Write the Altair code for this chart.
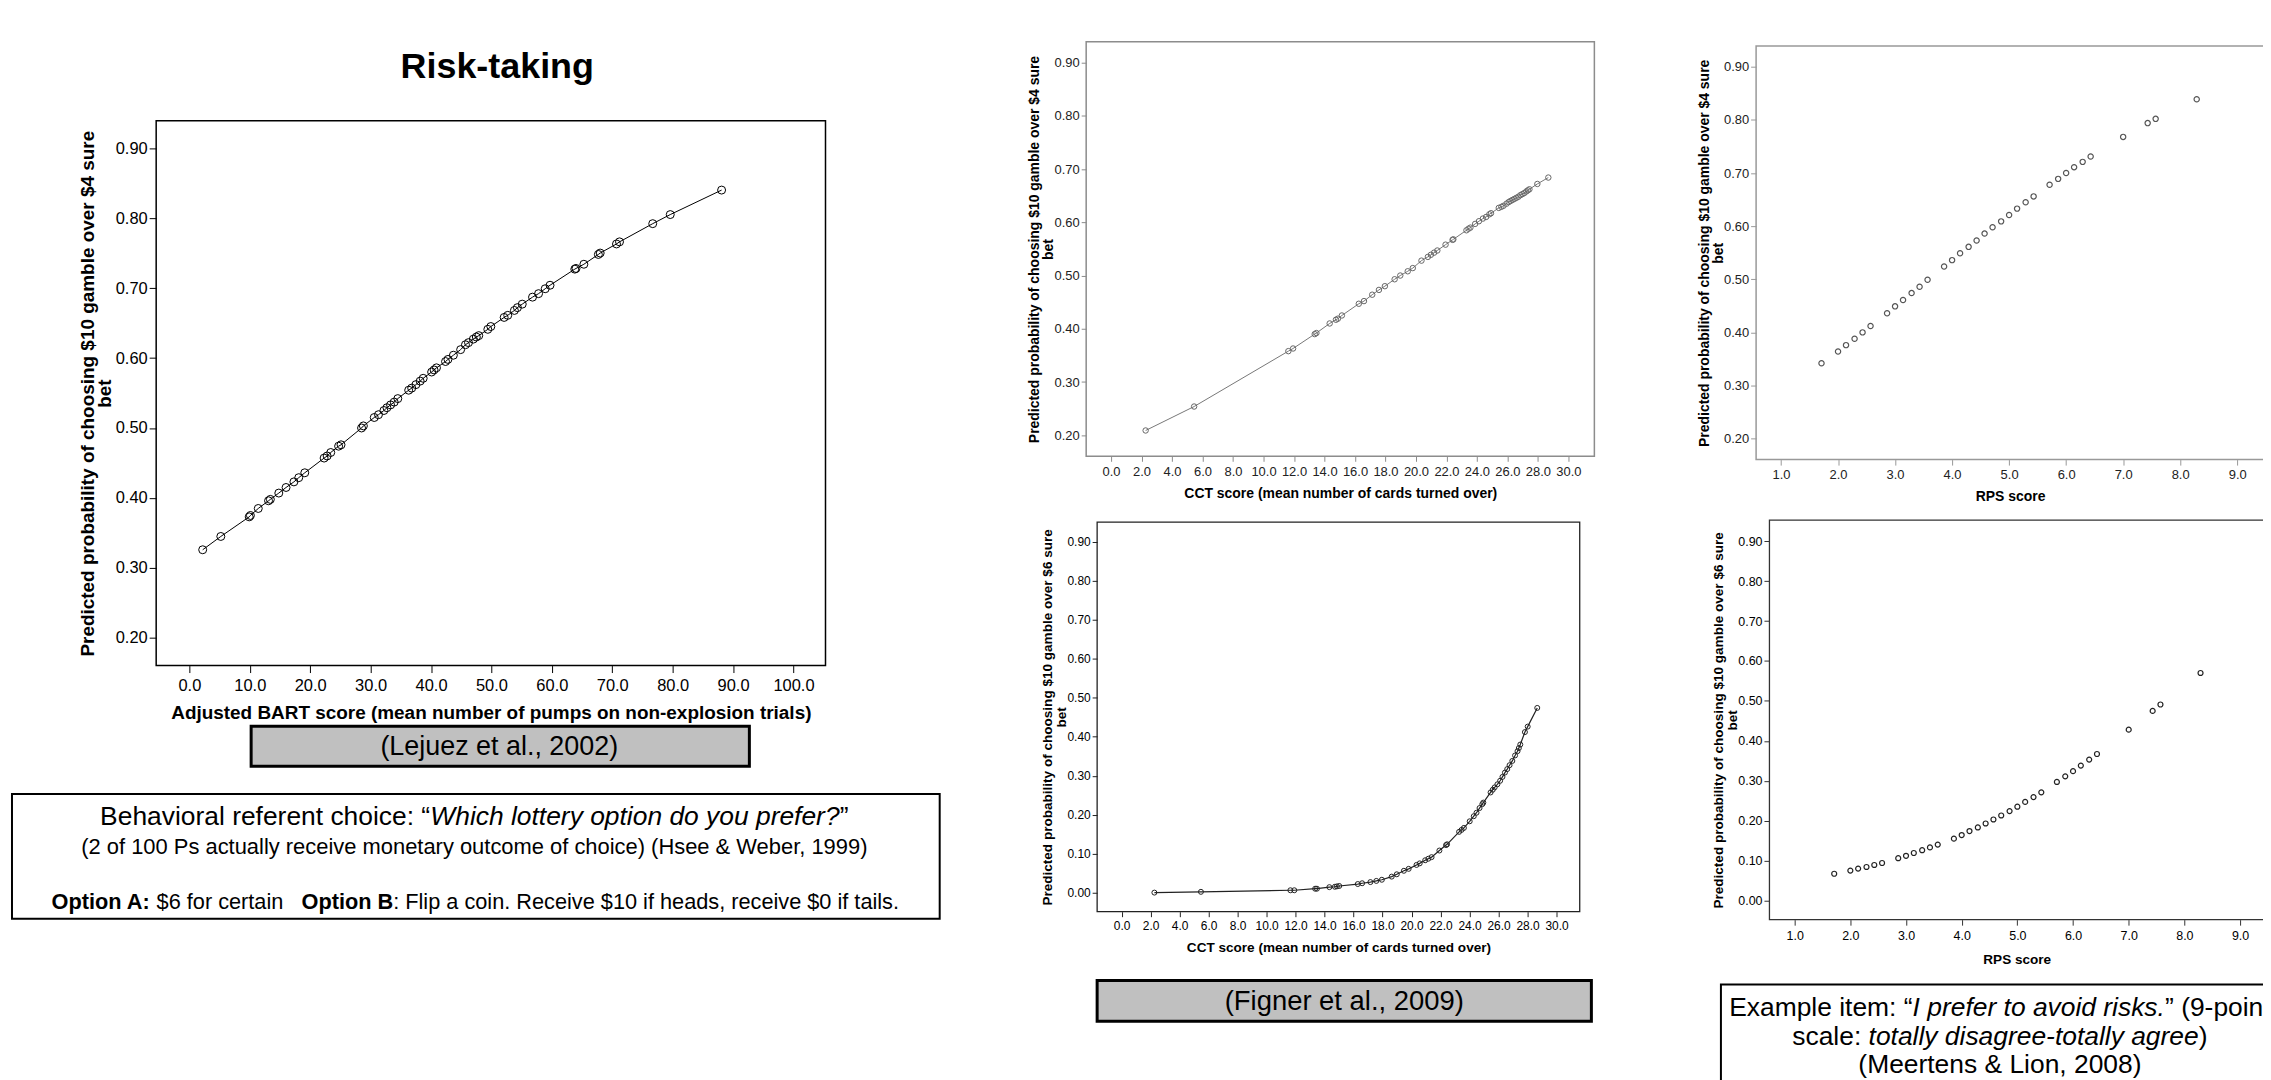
import altair as alt
import pandas as pd

FONT = "Liberation Sans, Arial, Helvetica, sans-serif"
M = 8            # page margin of the html body
W, H = 2263, 1072

# ------------------------------------------------------------------ data
bart_x = [2.2, 5.2, 9.9, 10.1, 11.4, 13.1, 13.4, 14.8, 16.0, 17.3, 18.1, 19.1, 22.3, 22.8, 23.4,
          24.7, 25.1, 28.5, 28.8, 30.6, 31.3, 32.2, 32.7, 33.3, 33.9, 34.5, 36.3, 36.8, 37.5, 38.2,
          38.7, 40.1, 40.5, 40.9, 42.4, 42.8, 43.7, 44.9, 45.7, 46.2, 47.0, 47.5, 47.9, 49.4, 49.9,
          52.1, 52.7, 53.8, 54.3, 55.1, 56.8, 57.8, 58.9, 59.7, 63.8, 64.0, 65.3, 67.7, 68.0, 70.7,
          71.2, 76.7, 79.6, 88.1]
bart_y = [0.326, 0.345, 0.373, 0.375, 0.385, 0.396, 0.398, 0.407, 0.415, 0.423, 0.429, 0.436, 0.457,
          0.460, 0.465, 0.474, 0.476, 0.500, 0.503, 0.515, 0.519, 0.525, 0.529, 0.533, 0.537, 0.542,
          0.554, 0.557, 0.562, 0.567, 0.571, 0.580, 0.583, 0.586, 0.595, 0.598, 0.604, 0.612, 0.619,
          0.622, 0.627, 0.630, 0.632, 0.641, 0.645, 0.658, 0.661, 0.668, 0.672, 0.677, 0.687, 0.692,
          0.699, 0.704, 0.727, 0.728, 0.734, 0.748, 0.750, 0.763, 0.766, 0.792, 0.805, 0.840]

cct4_x = [2.27, 5.45, 11.63, 11.94, 13.36, 13.47, 14.34, 14.75, 14.88, 15.14, 16.25, 16.59, 17.13,
          17.57, 17.96, 18.60, 18.97, 19.46, 19.79, 20.36, 20.78, 20.98, 21.19, 21.40, 21.94, 22.40,
          22.45, 23.31, 23.45, 23.57, 23.88, 24.13, 24.39, 24.60, 24.81, 24.92, 25.43, 25.60, 25.74,
          25.94, 26.08, 26.20, 26.33, 26.46, 26.59, 26.72, 26.85, 26.98, 27.11, 27.24, 27.34, 27.44,
          27.96, 28.68]
cct4_y = [0.209, 0.254, 0.358, 0.363, 0.390, 0.392, 0.410, 0.417, 0.419, 0.425, 0.447, 0.452, 0.464,
          0.473, 0.480, 0.493, 0.500, 0.508, 0.514, 0.528, 0.535, 0.539, 0.543, 0.547, 0.558, 0.567,
          0.568, 0.585, 0.588, 0.590, 0.597, 0.602, 0.607, 0.610, 0.615, 0.617, 0.627, 0.629, 0.631,
          0.635, 0.638, 0.640, 0.642, 0.644, 0.646, 0.648, 0.651, 0.653, 0.655, 0.658, 0.660, 0.662,
          0.672, 0.684]

cct6_x = [2.26, 5.47, 11.64, 11.91, 13.35, 13.47, 14.33, 14.71, 14.85, 15.01, 16.29, 16.59, 17.16,
          17.57, 17.95, 18.63, 18.98, 19.47, 19.80, 20.34, 20.56, 20.94, 21.16, 21.38, 21.92, 22.38,
          22.45, 23.28, 23.45, 23.61, 24.01, 24.29, 24.48, 24.69, 24.88, 24.95, 25.45, 25.60, 25.73,
          25.92, 26.11, 26.27, 26.44, 26.60, 26.76, 26.95, 27.14, 27.31, 27.40, 27.50, 27.82, 28.01,
          28.67]
cct6_y = [0.000, 0.002, 0.006, 0.006, 0.010, 0.010, 0.014, 0.015, 0.016, 0.017, 0.022, 0.024, 0.027,
          0.030, 0.033, 0.041, 0.047, 0.056, 0.061, 0.071, 0.075, 0.083, 0.087, 0.091, 0.108, 0.122,
          0.124, 0.156, 0.161, 0.166, 0.183, 0.196, 0.205, 0.217, 0.227, 0.231, 0.257, 0.264, 0.270,
          0.278, 0.287, 0.297, 0.308, 0.317, 0.327, 0.338, 0.352, 0.363, 0.371, 0.380, 0.412, 0.426,
          0.474]

rps_x = [1.71, 2.00, 2.14, 2.29, 2.43, 2.57, 2.86, 3.00, 3.14, 3.29, 3.43, 3.57, 3.86, 4.00, 4.14,
         4.29, 4.43, 4.57, 4.71, 4.86, 5.00, 5.14, 5.29, 5.43, 5.71, 5.86, 6.00, 6.14, 6.29, 6.43,
         7.00, 7.43, 7.57, 8.29]
rps4_y = [0.342, 0.364, 0.376, 0.388, 0.400, 0.412, 0.436, 0.449, 0.461, 0.474, 0.486, 0.499, 0.524,
          0.536, 0.549, 0.561, 0.573, 0.586, 0.598, 0.609, 0.621, 0.633, 0.645, 0.656, 0.678, 0.689,
          0.700, 0.711, 0.721, 0.731, 0.768, 0.794, 0.802, 0.839]
rps6_y = [0.067, 0.075, 0.080, 0.084, 0.089, 0.094, 0.106, 0.112, 0.119, 0.126, 0.133, 0.140, 0.155,
          0.164, 0.174, 0.183, 0.193, 0.203, 0.213, 0.224, 0.235, 0.247, 0.259, 0.271, 0.297, 0.311,
          0.324, 0.338, 0.353, 0.367, 0.428, 0.475, 0.491, 0.570]

bart_ticks = [0, 10, 20, 30, 40, 50, 60, 70, 80, 90, 100]
cct_ticks = [0, 2, 4, 6, 8, 10, 12, 14, 16, 18, 20, 22, 24, 26, 28, 30]
rps_ticks = [1, 2, 3, 4, 5, 6, 7, 8, 9]
p4_ticks = [0.2, 0.3, 0.4, 0.5, 0.6, 0.7, 0.8, 0.9]
p6_ticks = [0.0, 0.1, 0.2, 0.3, 0.4, 0.5, 0.6, 0.7, 0.8, 0.9]

ytitle4 = ["Predicted probability of choosing $10 gamble over $4 sure", "bet"]
ytitle6 = ["Predicted probability of choosing $10 gamble over $6 sure", "bet"]

# ------------------------------------------------------------------ text metrics (Arial / Liberation Sans)
REG = {' ': 278, '!': 278, '"': 355, '$': 556, '&': 667, "'": 191, '(': 333, ')': 333, ',': 278,
       '-': 333, '.': 278, ':': 278, '?': 556, '\u201c': 333, '\u201d': 333,
       'A': 667, 'B': 667, 'C': 722, 'D': 722, 'E': 667, 'F': 611, 'G': 778, 'H': 722, 'I': 278,
       'J': 500, 'K': 667, 'L': 556, 'M': 833, 'N': 722, 'O': 778, 'P': 667, 'Q': 778, 'R': 722,
       'S': 667, 'T': 611, 'U': 722, 'V': 667, 'W': 944, 'X': 667, 'Y': 667, 'Z': 611,
       'a': 556, 'b': 556, 'c': 500, 'd': 556, 'e': 556, 'f': 278, 'g': 556, 'h': 556, 'i': 222,
       'j': 222, 'k': 500, 'l': 222, 'm': 833, 'n': 556, 'o': 556, 'p': 556, 'q': 556, 'r': 333,
       's': 500, 't': 278, 'u': 556, 'v': 500, 'w': 722, 'x': 500, 'y': 500, 'z': 500}
BOLD = {' ': 278, '$': 556, ':': 333, '(': 333, ')': 333, '-': 333, '.': 278, ',': 278,
        'A': 722, 'B': 722, 'C': 722, 'O': 778, 'P': 667, 'R': 722, 'S': 667, 'T': 611,
        'a': 556, 'b': 611, 'c': 556, 'd': 611, 'e': 556, 'f': 333, 'g': 611, 'h': 611, 'i': 278,
        'j': 278, 'k': 556, 'l': 278, 'm': 889, 'n': 611, 'o': 611, 'p': 611, 'r': 389, 's': 556,
        't': 333, 'u': 611, 'v': 556, 'x': 556, 'y': 556}


def tw(s, weight, size):
    tab = BOLD if weight == 'bold' else REG
    return sum(tab.get(c, 556) for c in s) * size / 1000.0


def text(s, x, y, size, weight='normal', style='normal', align='center', color='black'):
    return alt.Chart(pd.DataFrame({'t': [s]})).mark_text(
        font=FONT, fontSize=size, fontWeight=weight, fontStyle=style, align=align,
        baseline='alphabetic', color=color
    ).encode(text='t:N', x=alt.value(x - M), y=alt.value(y - M))


def rich(segs, cx, y, size):
    widths = [tw(t, w, size) for t, w, s in segs]
    x = cx - sum(widths) / 2.0
    out = []
    for (t, w, s), wd in zip(segs, widths):
        lead = len(t) - len(t.lstrip(' '))
        out.append(text(t.strip(' '), x + lead * 278 * size / 1000.0, y, size, w, s, align='left'))
        x += wd
    return out


def box(x0, y0, x1, y1, fill, sw):
    return alt.Chart(pd.DataFrame({'a': [0]})).mark_rect(
        fill=fill, stroke='black', strokeWidth=sw
    ).encode(x=alt.value(x0 - M), x2=alt.value(x1 - M), y=alt.value(y0 - M), y2=alt.value(y1 - M))


# ------------------------------------------------------------------ panels
def panel(xv, yv, draw_line, frame, xdom, ydom, xticks, yticks, xtitle, ytitle, st):
    L, T, R, B = [v - M for v in frame]
    xs = alt.Scale(domain=xdom, range=[L, R], nice=False, zero=False)
    ys = alt.Scale(domain=ydom, range=[B, T], nice=False, zero=False)
    df = pd.DataFrame({'x': xv, 'y': yv})
    fr = pd.DataFrame({'x': [xdom[0]], 'x2': [xdom[1]], 'y': [ydom[0]], 'y2': [ydom[1]]})
    layers = [alt.Chart(fr).mark_rect(filled=False, stroke=st['frame'], strokeWidth=st['fw']).encode(
        x=alt.X('x:Q', scale=xs, axis=None), x2='x2:Q',
        y=alt.Y('y:Q', scale=ys, axis=None), y2='y2:Q')]
    if draw_line:
        layers.append(alt.Chart(df).mark_line(color=st['lc'], strokeWidth=st['lw']).encode(
            x=alt.X('x:Q', scale=xs, axis=None), y=alt.Y('y:Q', scale=ys, axis=None)))
    common = dict(grid=False, domain=False, tickSize=st['tick'], tickColor=st['tickc'], tickWidth=1,
                  labelFont=FONT, labelFontSize=st['lfs'], labelColor=st['labc'], labelFlush=False,
                  labelOverlap=False, titleFont=FONT, titleFontWeight='bold', titleColor='black')
    xaxis = alt.Axis(orient='bottom', offset=B - H, values=xticks, format='.1f', title=xtitle,
                     labelPadding=st['xlp'], titleFontSize=st['xtfs'], titleBaseline='alphabetic',
                     titleY=st['xty'], **common)
    yaxis = alt.Axis(orient='left', offset=-L, values=yticks, format='.2f', title=ytitle,
                     labelPadding=st['ylp'], titleFontSize=st['ytfs'], titleBaseline='bottom',
                     titleAlign='center', titleAngle=270, titleX=st['ytx'], titleY=(T + B) / 2.0,
                     titleLineHeight=st['tlh'], **common)
    layers.append(alt.Chart(df).mark_point(shape='circle', filled=False, size=st['ps'],
                                           color=st['pc'], strokeWidth=st['psw'], opacity=1).encode(
        x=alt.X('x:Q', scale=xs, axis=xaxis), y=alt.Y('y:Q', scale=ys, axis=yaxis)))
    return layers


st_left = dict(frame='black', fw=1.5, tick=7, tickc='black', lfs=16.5, labc='black', xlp=5, ylp=2,
               xtfs=19, ytfs=19, xty=53.5, ytx=-59, tlh=17, ps=64, pc='black', psw=1,
               lc='black', lw=1)
st_mt = dict(frame='#8c8c8c', fw=1.5, tick=5, tickc='#8c8c8c', lfs=13, labc='#222222', xlp=4, ylp=2,
             xtfs=14, ytfs=14, xty=41, ytx=-44.5, tlh=14, ps=30, pc='#666666', psw=1,
             lc='#777777', lw=1)
st_mb = dict(frame='#222222', fw=1.3, tick=5, tickc='#222222', lfs=12, labc='black', xlp=3.5, ylp=2,
             xtfs=13.6, ytfs=13.6, xty=40, ytx=-43, tlh=14, ps=25, pc='#222222', psw=1,
             lc='#222222', lw=1.2)
st_rt = dict(frame='#999999', fw=1.5, tick=5.5, tickc='#999999', lfs=13, labc='#222222', xlp=3.3, ylp=2,
             xtfs=14, ytfs=14, xty=40.7, ytx=-44.5, tlh=14, ps=28, pc='#555555', psw=1.2,
             lc='#555555', lw=1)
st_rb = dict(frame='#333333', fw=1.3, tick=5.5, tickc='#333333', lfs=12.5, labc='black', xlp=4.5, ylp=2,
             xtfs=13.6, ytfs=13.6, xty=44, ytx=-44, tlh=14, ps=25, pc='#222222', psw=1.2,
             lc='#222222', lw=1)

layers = []
layers += panel(bart_x, bart_y, True, (156.7, 119.3, 828.4, 666), [-5.5, 105.3], [0.1605, 0.939],
                bart_ticks, p4_ticks,
                "Adjusted BART score (mean number of pumps on non-explosion trials)", ytitle4, st_left)
layers += panel(cct4_x, cct4_y, True, (1090, 40, 1600, 456), [-1.63, 31.7], [0.1605, 0.939],
                cct_ticks, p4_ticks, "CCT score (mean number of cards turned over)", ytitle4, st_mt)
layers += panel(cct6_x, cct6_y, True, (1101, 522, 1585.3, 913), [-1.69, 31.6], [-0.049, 0.951],
                cct_ticks, p6_ticks, "CCT score (mean number of cards turned over)", ytitle6, st_mb)
layers += panel(rps_x, rps4_y, False, (1762.3, 44.3, 2272, 459.3), [0.563, 9.47], [0.1605, 0.939],
                rps_ticks, p4_ticks, "RPS score", ytitle4, st_rt)
layers += panel(rps_x, rps6_y, False, (1775.7, 520, 2272, 921), [0.547, 9.43], [-0.048, 0.953],
                rps_ticks, p6_ticks, "RPS score", ytitle6, st_rb)

# ------------------------------------------------------------------ annotations
layers.append(text("Risk-taking", 499, 76, 36, weight='bold'))

layers.append(box(252, 727, 752, 767, '#c0c0c0', 3))
layers.append(text("(Lejuez et al., 2002)", 501, 756, 27))

layers.append(box(12, 795, 943, 920, 'white', 2))
layers += rich([("Behavioral referent choice: \u201c", 'normal', 'normal'),
                ("Which lottery option do you prefer?", 'normal', 'italic'),
                ("\u201d", 'normal', 'normal')], 476, 826, 26.5)
layers.append(text("(2 of 100 Ps actually receive monetary outcome of choice) (Hsee & Weber, 1999)",
                   476, 855, 22))
layers += rich([("Option A:", 'bold', 'normal'), (" $6 for certain", 'normal', 'normal'),
                ("   Option B", 'bold', 'normal'),
                (": Flip a coin. Receive $10 if heads, receive $0 if tails.", 'normal', 'normal')],
               477, 910, 21.8)

layers.append(box(1101, 982, 1597, 1023, '#c0c0c0', 3))
layers.append(text("(Figner et al., 2009)", 1349, 1011.7, 27.5))

layers.append(box(1727, 986, 2320, 1120, 'white', 2))
layers += rich([("Example item: \u201c", 'normal', 'normal'),
                ("I prefer to avoid risks.", 'normal', 'italic'),
                ("\u201d (9-point", 'normal', 'normal')], 2007, 1017.5, 26.5)
layers += rich([("scale: ", 'normal', 'normal'),
                ("totally disagree-totally agree", 'normal', 'italic'),
                (")", 'normal', 'normal')], 2007, 1046.5, 26.5)
layers.append(text("(Meertens & Lion, 2008)", 2007, 1074.5, 26.5))

chart = alt.layer(*layers).resolve_scale(x='independent', y='independent').properties(
    width=W, height=H, padding=0, autosize=alt.AutoSizeParams(type='none'),
    background='white'
).configure_view(stroke=None)

chart.save("out.html", embed_options={"renderer": "svg", "actions": False})
